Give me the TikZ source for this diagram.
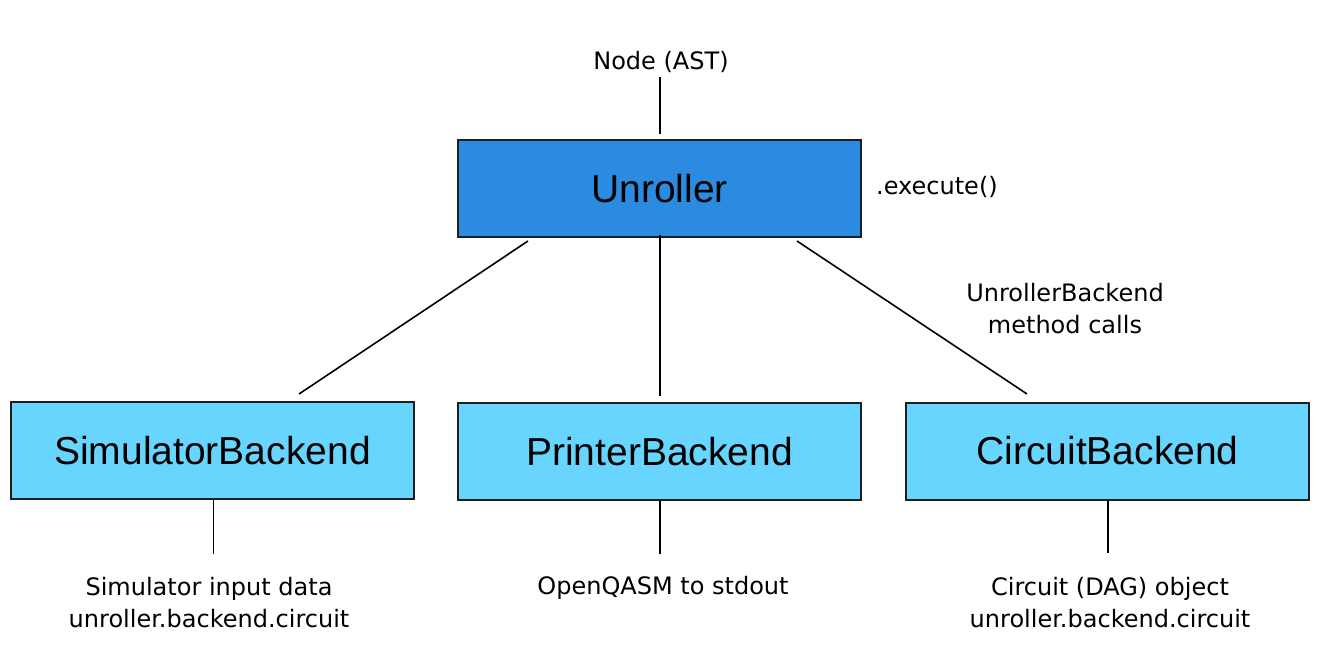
\documentclass[tikz,border=0pt]{standalone}
\usepackage{fontspec}
\setmainfont{DejaVu Sans}
\newfontfamily\boxfont{Liberation Sans}
\definecolor{darkblue}{HTML}{2A8BE0}
\definecolor{lightblue}{HTML}{67D5FD}
\definecolor{edge}{HTML}{1E1E1E}
\begin{document}
\begin{tikzpicture}[x=1pt,y=-1pt,
  mainbox/.style={draw=edge,line width=2pt,fill=darkblue,minimum width=403pt,minimum height=97pt,inner sep=0pt,font=\boxfont\fontsize{39}{44}\selectfont},
  backbox/.style={draw=edge,line width=2pt,fill=lightblue,minimum width=403pt,minimum height=97pt,inner sep=0pt,font=\boxfont\fontsize{39}{44}\selectfont},
  lbl/.style={inner sep=0pt,align=center,font=\fontsize{24}{32}\selectfont},
  conn/.style={draw=black,line width=1.6pt}]
\useasboundingbox (0,0) rectangle (1321,667);
\node[mainbox] (unroller) at (659.5,188.5) {Unroller};
\node[backbox] (sim) at (212.5,450.5) {SimulatorBackend};
\node[backbox] (printer) at (659.5,451.5) {PrinterBackend};
\node[backbox] (circuit) at (1107.5,451) {CircuitBackend};
\node[lbl] (ast) at (661,62) {Node (AST)};
\node[lbl,anchor=west] (exec) at (876,187) {.execute()};
\node[lbl] (calls) at (1065,309) {UnrollerBackend\\method calls};
\node[lbl] (simout) at (209,603) {Simulator input data\\unroller.backend.circuit};
\node[lbl] (printout) at (663,588) {OpenQASM to stdout};
\node[lbl] (circout) at (1110,603) {Circuit (DAG) object\\unroller.backend.circuit};
\coordinate (a1) at (660,77); \coordinate (a2) at (660,134);
\coordinate (s1) at (528,241); \coordinate (s2) at (299,394);
\coordinate (p1) at (660,235); \coordinate (p2) at (660,396);
\coordinate (c1) at (797,241); \coordinate (c2) at (1027,394);
\coordinate (sb1) at (213.5,500); \coordinate (sb2) at (213.5,554);
\coordinate (pb1) at (660,501); \coordinate (pb2) at (660,554);
\coordinate (cb1) at (1108,500); \coordinate (cb2) at (1108,553);
\draw[conn] (a1) -- (a2);
\draw[conn] (s1) -- (s2);
\draw[conn] (p1) -- (p2);
\draw[conn] (c1) -- (c2);
\draw[conn] (sb1) -- (sb2);
\draw[conn] (pb1) -- (pb2);
\draw[conn] (cb1) -- (cb2);
\end{tikzpicture}
\end{document}
